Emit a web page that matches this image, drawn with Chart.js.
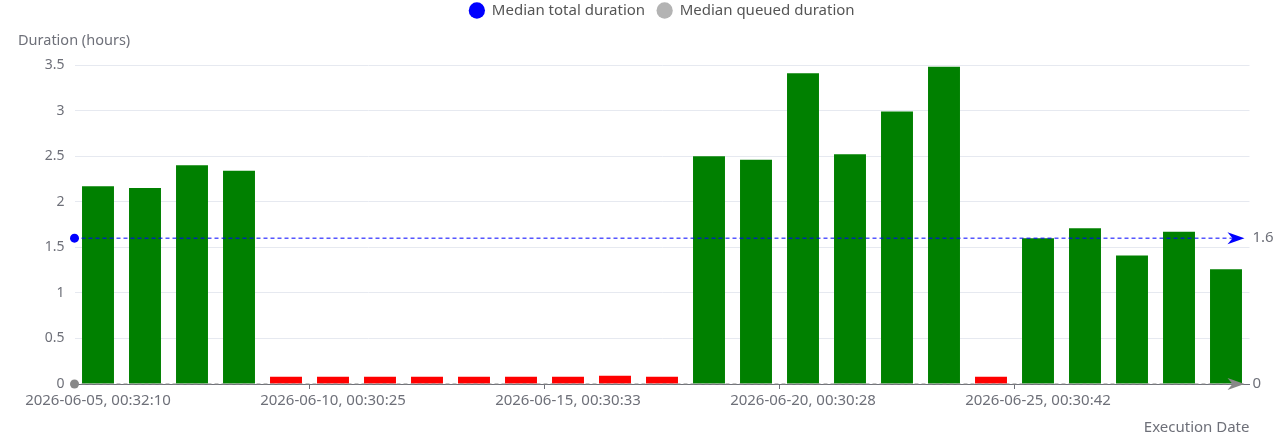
<!DOCTYPE html>
<html>
<head>
<meta charset="utf-8">
<script src="https://cdn.jsdelivr.net/npm/chart.js@4.4.1/dist/chart.umd.min.js"></script>
<style>
  html, body { margin: 0; padding: 0; background: #fff; }
</style>
</head>
<body>
<canvas id="chart" width="1280" height="441"></canvas>
<script>
const executionDates = [
  "2026-06-05, 00:32:10", "2026-06-06, 00:30:51", "2026-06-07, 00:31:04", "2026-06-08, 00:30:39",
  "2026-06-09, 00:30:17", "2026-06-10, 00:30:25", "2026-06-11, 00:30:31", "2026-06-12, 00:30:22",
  "2026-06-13, 00:30:36", "2026-06-14, 00:30:29", "2026-06-15, 00:30:33", "2026-06-16, 00:30:40",
  "2026-06-17, 00:30:26", "2026-06-18, 00:30:35", "2026-06-19, 00:30:30", "2026-06-20, 00:30:28",
  "2026-06-21, 00:30:37", "2026-06-22, 00:30:32", "2026-06-23, 00:30:45", "2026-06-24, 00:30:27",
  "2026-06-25, 00:30:42", "2026-06-26, 00:30:34", "2026-06-27, 00:30:38", "2026-06-28, 00:30:29",
  "2026-06-29, 00:30:41"
];
const totalDurations = [
  2.17, 2.15, 2.40, 2.34,
  0.08, 0.08, 0.08, 0.08, 0.08, 0.08, 0.08, 0.09, 0.08,
  2.50, 2.46, 3.41, 2.52, 2.99, 3.48,
  0.08,
  1.60, 1.71, 1.41, 1.67, 1.26
];
const runStatus = [
  "success", "success", "success", "success",
  "failed", "failed", "failed", "failed", "failed", "failed", "failed", "failed", "failed",
  "success", "success", "success", "success", "success", "success",
  "failed",
  "success", "success", "success", "success", "success"
];
const medianTotal = [1.6];
const medianQueued = [0];

const statusColors = { success: "#008000", failed: "#ff0000" };
const axisGrey = "#6e7079";
const font = "'Noto Sans', 'Open Sans', sans-serif";

// dashed median lines across the plot, ends with a dot and an arrow
const markLines = {
  id: "markLines",
  afterDatasetsDraw(chart) {
    const { ctx, chartArea, scales } = chart;
    chart.data.datasets.forEach((ds) => {
      if (!ds.median) return;
      const y = scales.y.getPixelForValue(ds.median[0]);
      const x0 = chartArea.left;
      const tip = chartArea.right - 5;
      ctx.save();
      ctx.strokeStyle = ds.lineColor;
      ctx.fillStyle = ds.lineColor;
      ctx.lineWidth = 1;
      ctx.setLineDash([4, 3]);
      ctx.beginPath();
      ctx.moveTo(x0, y);
      ctx.lineTo(tip - 10, y);
      ctx.stroke();
      ctx.setLineDash([]);
      ctx.beginPath();
      ctx.arc(x0, y, 4.5, 0, Math.PI * 2);
      ctx.fill();
      ctx.beginPath();
      ctx.moveTo(tip, y);
      ctx.lineTo(tip - 17, y - 6);
      ctx.lineTo(tip - 12, y);
      ctx.lineTo(tip - 17, y + 6);
      ctx.closePath();
      ctx.fill();
      ctx.fillStyle = axisGrey;
      ctx.font = "15px " + font;
      ctx.textBaseline = "middle";
      ctx.textAlign = "left";
      ctx.fillText(String(ds.median[0]), tip + 8, y);
      ctx.restore();
    });
  }
};

const yAxisLabel = {
  id: "yAxisLabel",
  afterDraw(chart) {
    const { ctx, chartArea } = chart;
    ctx.save();
    ctx.fillStyle = axisGrey;
    ctx.font = "14.5px " + font;
    ctx.textBaseline = "middle";
    ctx.fillText("Duration (hours)", 18, chartArea.top - 24);
    ctx.restore();
  }
};

new Chart(document.getElementById("chart"), {
  type: "bar",
  data: {
    labels: executionDates,
    datasets: [
      {
        label: "Total duration",
        data: totalDurations,
        backgroundColor: runStatus.map((s) => statusColors[s]),
        categoryPercentage: 1,
        barPercentage: 0.68,
      },
      {
        type: "line",
        label: "Median total duration",
        data: [],
        median: medianTotal,
        lineColor: "#0000ff",
        backgroundColor: "#0000ff",
        borderColor: "#0000ff",
        borderWidth: 0,
      },
      {
        type: "line",
        label: "Median queued duration",
        data: [],
        median: medianQueued,
        lineColor: "#888888",
        backgroundColor: "#b3b3b3",
        borderColor: "#b3b3b3",
        borderWidth: 0,
      },
    ],
  },
  plugins: [markLines, yAxisLabel],
  options: {
    responsive: false,
    animation: false,
    layout: { padding: { top: -9, right: 30.5, left: 0, bottom: 0 } },
    plugins: {
      legend: {
        position: "top",
        fullSize: false,
        labels: {
          usePointStyle: true,
          pointStyle: "circle",
          boxHeight: 11.5,
          padding: 12,
          color: "#555",
          font: { size: 15, family: font },
          filter: (item) => item.datasetIndex > 0,
        },
      },
      title: {
        display: true,
        text: "",
        fullSize: false,
        weight: 500,
        font: { size: 10, lineHeight: 1 },
        padding: { top: 0, bottom: 27 },
      },
      tooltip: { enabled: false },
    },
    scales: {
      x: {
        afterFit: (scale) => { scale.height = 57; },
        border: { color: axisGrey },
        grid: {
          offset: true,
          drawOnChartArea: false,
          tickLength: 5,
          tickColor: (c) => (c.index % 5 === 0 && c.index > 0 ? axisGrey : "transparent"),
        },
        ticks: {
          autoSkip: false,
          maxRotation: 0,
          padding: 3,
          color: axisGrey,
          font: { size: 15, family: font },
          callback: function (value, index) {
            return index % 5 === 0 ? this.getLabelForValue(value) : "";
          },
        },
        title: {
          display: true,
          text: "Execution Date",
          align: "end",
          color: axisGrey,
          font: { size: 15, family: font },
          padding: { top: 0, bottom: 4 },
        },
      },
      y: {
        min: 0,
        max: 3.5,
        afterFit: (scale) => { scale.width = 74.5; },
        border: { display: false },
        grid: { color: "#e6e9f0", drawTicks: false },
        ticks: {
          stepSize: 0.5,
          padding: 10,
          color: axisGrey,
          font: { size: 14, family: font },
          callback: (value) => String(value),
        },
      },
    },
  },
});
</script>
</body>
</html>
